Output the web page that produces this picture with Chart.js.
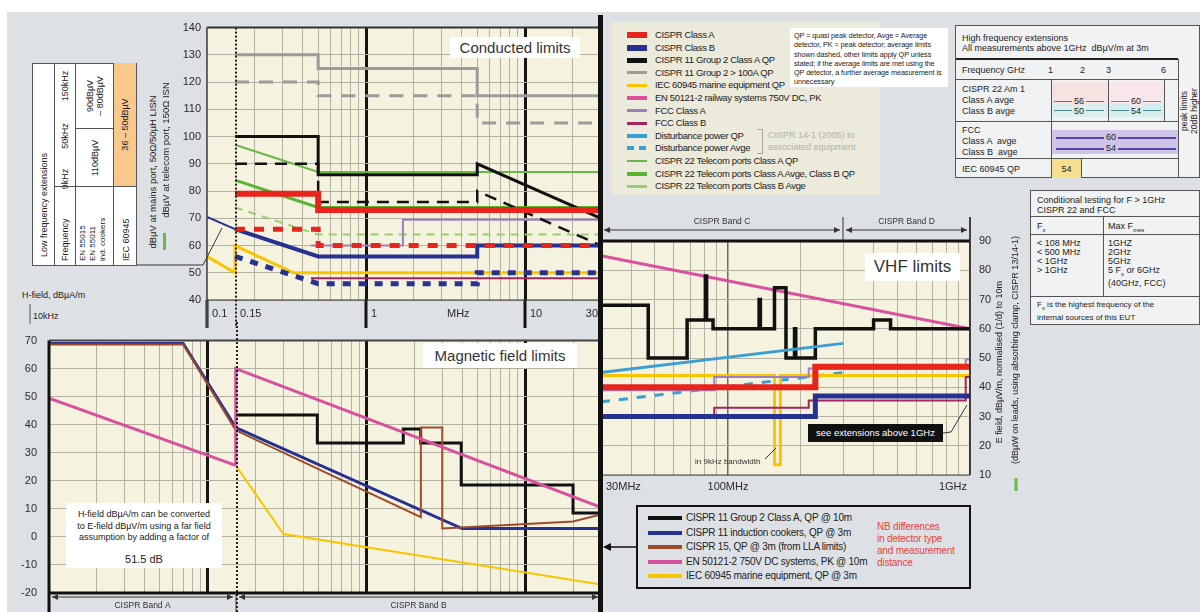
<!DOCTYPE html>
<html>
<head>
<meta charset="utf-8">
<title>EMC emission limits</title>
<script src="https://cdn.jsdelivr.net/npm/chart.js@4.4.1/dist/chart.umd.min.js"></script>
<style>
  body { margin: 0; background: #fff; font-family: "Liberation Sans", Arial, sans-serif; color: #222; }
  #page { position: relative; width: 1200px; height: 612px; overflow: hidden; }
  #bg { position: absolute; left: 7px; top: 12px; right: 0; bottom: 0; background: #dde1e5; }
  .abs { position: absolute; }
  canvas { position: absolute; }
  .box { position: absolute; background: #fff; text-align: center; }
  .rot { position: absolute; transform: translate(-50%, -50%) rotate(-90deg); white-space: nowrap; }
  .hl { position: absolute; height: 0; border-top: 1px solid #555; }
  .vl { position: absolute; width: 0; border-left: 1px solid #555; }
  .cell { position: absolute; display: flex; align-items: center; justify-content: center; text-align: center; }
  .leg { position: absolute; white-space: nowrap; }
  .sw { position: absolute; }
</style>
</head>
<body>
<div id="page">
  <div id="bg"></div>

  <canvas id="condChart" width="431" height="313" style="left:170px;top:15px"></canvas>
  <canvas id="magChart" width="601" height="290" style="left:0px;top:322px"></canvas>
  <canvas id="vhfChart" width="400" height="284" style="left:601px;top:212px"></canvas>

  <!-- low frequency extensions, printed sideways -->
  <div class="abs" style="left:32px;top:266px;width:203px;height:105px;transform:rotate(-90deg);transform-origin:0 0;background:#fff;border:1px solid #555;box-sizing:border-box;font-size:9px;line-height:10px">
    <div class="abs" style="left:8px;top:6px">Low frequency extensions</div>
    <div class="hl" style="left:0;right:0;top:21px"></div>
    <div class="abs" style="left:4px;top:27px">Frequency</div>
    <div class="abs" style="left:72px;top:27px;width:28px;text-align:center">9kHz</div>
    <div class="abs" style="left:112px;top:27px;width:34px;text-align:center">50kHz</div>
    <div class="abs" style="left:160px;top:27px;width:38px;text-align:center">150kHz</div>
    <div class="hl" style="left:0;right:0;top:42px"></div>
    <div class="abs" style="left:4px;top:45px;font-size:8px;line-height:10px">EN 55015<br>EN 55011<br>ind. cookers</div>
    <div class="vl" style="left:78px;top:21px;height:83px"></div>
    <div class="cell" style="left:78px;top:43px;width:58px;height:37px">110dBµV</div>
    <div class="vl" style="left:136px;top:42px;height:38px"></div>
    <div class="cell" style="left:137px;top:43px;width:64px;height:37px">90dBµV<br>– 80dBµV</div>
    <div class="hl" style="left:0;right:0;top:80px"></div>
    <div class="abs" style="left:4px;top:88px">IEC 60945</div>
    <div class="cell" style="left:79px;top:81px;width:123px;height:22px;background:#f8c88c">36 – 50dBµV</div>
  </div>

  <div class="rot" style="left:152px;top:172px;font-size:9.5px">dBµV at mains port, 50Ω/50µH LISN</div>
  <div class="rot" style="left:165px;top:150px;font-size:9.5px">dBµV at telecom port, 150Ω ISN</div>
  <div class="abs" style="left:163px;top:233px;width:3px;height:17px;background:#6ab845"></div>

  <div class="abs" style="left:22px;top:290px;font-size:9px">H-field, dBµA/m</div>
  <div class="abs" style="left:33px;top:311px;font-size:9px">10kHz</div>

  <!-- panel titles -->
  <div class="box" style="left:450px;top:37px;width:130px;height:21px;font-size:15px;line-height:21px;color:#333">Conducted limits</div>
  <div class="box" style="left:423px;top:343px;width:154px;height:25px;font-size:15px;line-height:25px;color:#333">Magnetic field limits</div>
  <div class="box" style="left:865px;top:253px;width:95px;height:28px;font-size:17px;line-height:28px;color:#333">VHF limits</div>

  <div class="box" style="left:66px;top:503px;width:156px;height:65px;font-size:9px;line-height:11.5px;padding-top:6px;box-sizing:border-box">
    H-field dBµA/m can be converted<br>to E-field dBµV/m using a far field<br>assumption by adding a factor of
    <div style="font-size:11px;margin-top:10px">51.5 dB</div>
  </div>

  <div class="box" style="left:808px;top:424px;width:135px;height:18px;background:#111;color:#fff;font-size:9.5px;line-height:18px">see extensions above 1GHz</div>
  <div class="abs" style="left:695px;top:457px;font-size:8px;color:#333">in 9kHz bandwidth</div>

  <div class="rot" style="left:999px;top:362px;font-size:9px">E field, dBµV/m, normalised (1/d) to 10m</div>
  <div class="rot" style="left:1015px;top:350px;font-size:9px">(dBµW on leads, using absorbing clamp, CISPR 13/14-1)</div>

  <!-- conducted legend -->
  <div id="condLegend" class="abs" style="left:612px;top:22px;width:268px;height:173px;background:#ebeadb;font-size:9.5px;letter-spacing:-0.35px"></div>
  <div class="abs" style="left:757px;top:129px;width:5px;height:23px;border:1px solid #aaa;border-left:none"></div>
  <div class="abs" style="left:768px;top:129px;font-size:9px;line-height:12px;color:#b2b0a6">CISPR 14-1 (2005) to<br>associated equipment</div>
  <div class="abs" style="left:790px;top:28px;width:158px;height:59px;background:#fff;font-size:7.3px;line-height:9.3px;padding:3px 4px;box-sizing:border-box;letter-spacing:-0.1px">
    QP = quasi peak detector, Avge = Average detector, PK = peak detector; average limits shown dashed, other limits apply QP unless stated; if the average limits are met using the QP detector, a further average measurement is unnecessary
  </div>

  <!-- high frequency extensions -->
  <div class="abs" style="left:955px;top:25px;width:245px;height:153px;background:#f1f2f3;border:1px solid #555;box-sizing:border-box;font-size:9px;line-height:10px">
    <div class="abs" style="left:6px;top:7px;white-space:nowrap">High frequency extensions<br>All measurements above 1GHz &nbsp;dBµV/m at 3m</div>
    <div class="abs" style="left:0;top:32px;width:222px;border-top:2px solid #222"></div>
    <div class="abs" style="left:6px;top:39px">Frequency GHz</div>
    <div class="abs" style="left:92px;top:39px">1</div>
    <div class="abs" style="left:124px;top:39px">2</div>
    <div class="abs" style="left:150px;top:39px">3</div>
    <div class="abs" style="left:205px;top:39px">6</div>
    <div class="vl" style="left:222px;top:33px;height:119px"></div>
    <div class="hl" style="left:0;width:222px;top:53px"></div>
    <div class="vl" style="left:95px;top:53px;height:99px"></div>
    <div class="abs" style="left:6px;top:58px;line-height:11px">CISPR 22 Am 1<br>Class A avge<br>Class B avge</div>
    <div class="abs" style="left:96px;top:56px;width:56px;height:21px;background:#f6e3e1"></div>
    <div class="abs" style="left:96px;top:77px;width:56px;height:14px;background:#dceff0"></div>
    <div class="abs" style="left:153px;top:56px;width:55px;height:21px;background:#f8e6ea"></div>
    <div class="abs" style="left:153px;top:77px;width:55px;height:14px;background:#d6eef0"></div>
    <div class="hl" style="left:98px;width:50px;top:75px;border-color:#777"></div>
    <div class="hl" style="left:98px;width:50px;top:84px;border-color:#4a8a90"></div>
    <div class="hl" style="left:155px;width:50px;top:75px;border-color:#d05a6a"></div>
    <div class="hl" style="left:155px;width:50px;top:84px;border-color:#4a8a90"></div>
    <div class="abs" style="left:116px;top:70px;background:#f6e3e1;padding:0 2px">56</div>
    <div class="abs" style="left:116px;top:80px;background:#dceff0;padding:0 2px">50</div>
    <div class="abs" style="left:173px;top:70px;background:#f8e6ea;padding:0 2px">60</div>
    <div class="abs" style="left:173px;top:80px;background:#d6eef0;padding:0 2px">54</div>
    <div class="vl" style="left:152px;top:53px;height:42px"></div>
    <div class="vl" style="left:208px;top:53px;height:42px"></div>
    <div class="hl" style="left:0;width:222px;top:95px"></div>
    <div class="abs" style="left:6px;top:99px;line-height:11px">FCC<br>Class A &nbsp;avge<br>Class B &nbsp;avge</div>
    <div class="abs" style="left:96px;top:104px;width:126px;height:24px;background:#cfc3e8"></div>
    <div class="hl" style="left:100px;width:120px;top:111px;border-top:2px solid #5a46a8"></div>
    <div class="hl" style="left:100px;width:120px;top:122px;border-top:2px solid #5a46a8"></div>
    <div class="abs" style="left:148px;top:106px;background:#cfc3e8;padding:0 2px">60</div>
    <div class="abs" style="left:148px;top:117px;background:#cfc3e8;padding:0 2px">54</div>
    <div class="hl" style="left:0;width:222px;top:132px"></div>
    <div class="abs" style="left:6px;top:138px">IEC 60945 QP</div>
    <div class="cell" style="left:96px;top:133px;width:29px;height:19px;background:#f6df8e;border-right:1px solid #555">54</div>
    <div class="rot" style="left:233px;top:85px;font-size:8.5px;line-height:10px;text-align:center">peak limits<br>20dB higher</div>
  </div>

  <!-- conditional testing -->
  <div class="abs" style="left:1030px;top:190px;width:170px;height:135px;background:#f1f2f3;border:1px solid #555;box-sizing:border-box;font-size:9px;line-height:10px">
    <div class="abs" style="left:6px;top:4px;white-space:nowrap">Conditional testing for F &gt; 1GHz<br>CISPR 22 and FCC</div>
    <div class="hl" style="left:0;right:0;top:25px"></div>
    <div class="abs" style="left:6px;top:30px">F<sub style="font-size:6px">x</sub></div>
    <div class="abs" style="left:77px;top:30px">Max F<sub style="font-size:6px">mes</sub></div>
    <div class="vl" style="left:72px;top:25px;height:80px"></div>
    <div class="hl" style="left:0;right:0;top:43px"></div>
    <div class="abs" style="left:6px;top:48px;line-height:9px;white-space:nowrap">&lt; 108 MHz<br>&lt; 500 MHz<br>&lt; 1GHz<br>&gt; 1GHz</div>
    <div class="abs" style="left:77px;top:48px;line-height:9px;white-space:nowrap">1GHZ<br>2GHz<br>5GHz<br>5 F<sub style="font-size:6px">x</sub> or 6GHz<br>(40GHz, FCC)</div>
    <div class="hl" style="left:0;right:0;top:105px"></div>
    <div class="abs" style="left:6px;top:109px;font-size:8px;line-height:10px;white-space:nowrap">F<sub style="font-size:6px">x</sub> is the highest frequency of the<br>internal sources of this EUT</div>
  </div>

  <!-- field legend -->
  <div id="fieldLegend" class="abs" style="left:636px;top:505px;width:335px;height:84px;border:2px solid #111;box-sizing:border-box;font-size:10px;letter-spacing:-0.25px"></div>
  <div class="abs" style="left:877px;top:521px;font-size:10px;line-height:12px;color:#e8413b;letter-spacing:-0.2px">NB differences<br>in detector type<br>and measurement<br>distance</div>

  <svg class="abs" width="1200" height="612" style="left:0;top:0;pointer-events:none">
    <rect x="598" y="15" width="5" height="597" fill="#111"/>
    <polyline points="137,265 203,265 222,228" fill="none" stroke="#333" stroke-width="1"/>
    <line x1="30" y1="304" x2="30" y2="324" stroke="#555" stroke-width="1"/>
    <line x1="636" y1="547" x2="609" y2="547" stroke="#111" stroke-width="1.5"/>
    <polygon points="603,547 611,543 611,551" fill="#111"/>
    <polyline points="943,433 951,432 967,405" fill="none" stroke="#333" stroke-width="1"/>
    <line x1="765" y1="459" x2="776" y2="448" stroke="#333" stroke-width="1"/>
    <line x1="1016" y1="478" x2="1016" y2="491" stroke="#6ab845" stroke-width="3"/>
  </svg>
</div>

<script>
// ---- conducted limits: [MHz, dBµV] ----
const cispr11HiQP = [[0.15, 130], [0.5, 130], [0.5, 125], [5, 125], [5, 115], [30, 115]];
const cispr11HiAv = [[0.15, 120], [0.5, 120], [0.5, 115], [5, 115], [5, 105], [30, 105]];
const cispr11AQP = [[0.15, 100], [0.5, 100], [0.5, 86], [5, 86], [5, 90], [30, 70]];
const cispr11AAv = [[0.15, 90], [0.5, 90], [0.5, 76], [5, 76], [5, 80], [30, 60]];
const classAQP = [[0.15, 79], [0.5, 79], [0.5, 73], [30, 73]];
const classAAv = [[0.15, 66], [0.5, 66], [0.5, 60], [30, 60]];
const classBQP = [[0.15, 66], [0.5, 56], [5, 56], [5, 60], [30, 60]];
const classBAv = [[0.15, 56], [0.5, 46], [5, 46], [5, 50], [30, 50]];
const lfExtension = [[0.1, 70.5], [0.15, 66]];
const iecCond = [[0.1, 56], [0.15, 50], [0.15, 60], [0.35, 50], [30, 50]];
const fccACond = [[0.45, 60], [1.705, 60], [1.705, 69.5], [30, 69.5]];
const fccBCond = [[0.45, 48], [30, 48]];
const telAQP = [[0.15, 97], [0.5, 87], [30, 87]];
const telAAvBQP = [[0.15, 84], [0.5, 74], [30, 74]];
const telBAv = [[0.15, 74], [0.5, 64], [30, 64]];

// ---- magnetic field limits: [MHz, dBµA/m] ----
const magCispr11 = [[0.15, 43.5], [0.49, 43.5], [0.49, 33.5], [1.705, 33.5], [1.705, 38.5], [2.194, 38.5], [2.194, 33.5], [3.95, 33.5], [3.95, 18.5], [20, 18.5], [20, 8.5], [30, 8.5]];
const magCookers = [[0.01, 69], [0.07, 69], [0.15, 39], [4, 3], [30, 3]];
const magCispr15 = [[0.01, 68.6], [0.07, 68.6], [0.15, 38], [2.2, 7], [2.2, 39], [3, 39], [3, 3], [20, 5.5], [30, 8]];
const magRail = [[0.01, 49.5], [0.15, 25.5], [0.15, 60], [30, 10.5]];
const magIec = [[0.15, 25.5], [0.3, 1], [30, -17]];

// ---- VHF limits: [MHz, dBµV/m at 10m] ----
const vhfRail = [[30, 85], [1000, 60]];
const vhfCispr11 = [[30, 68], [47, 68], [47, 50], [68, 50], [68, 63], [80.872, 63], [80.872, 78], [81.848, 78], [81.848, 63], [87, 63], [87, 60],
  [134.786, 60], [134.786, 70], [136.414, 70], [136.414, 60], [156, 60], [156, 74], [174, 74], [174, 50], [188.7, 50], [188.7, 60],
  [190.979, 60], [190.979, 50], [230, 50], [230, 60], [400, 60], [400, 63], [470, 63], [470, 60], [1000, 60]];
const vhfPowerQP = [[30, 45], [300, 55]];
const vhfPowerAv = [[30, 35], [300, 45]];
const vhfClassA = [[30, 40], [230, 40], [230, 47], [1000, 47]];
const vhfClassB = [[30, 30], [230, 30], [230, 37], [1000, 37]];
const vhfFccA = [[30, 39], [88, 39], [88, 43.5], [216, 43.5], [216, 46.4], [960, 46.4], [960, 49.5], [1000, 49.5]];
const vhfFccB = [[30, 29.5], [88, 29.5], [88, 33], [216, 33], [216, 35.5], [960, 35.5], [960, 43.5], [1000, 43.5]];
const vhfIec = [[30, 44], [156, 44], [156, 13.5], [165, 13.5], [165, 44], [1000, 44]];

// ---- axis labels and bands ----
const condXTicks = [0.1, 0.15, 1, 3, 10, 30];
const condXLabels = ['0.1', '0.15', '1', 'MHz', '10', '30'];
const vhfXTicks = [30, 100, 1000];
const vhfXLabels = ['30MHz', '100MHz', '1GHz'];
const magBands = [[0.01, 0.15, 'CISPR Band A'], [0.15, 30, 'CISPR Band B']];
const vhfBands = [[30, 300, 'CISPR Band C'], [300, 1000, 'CISPR Band D']];

const condLegendNames = ['CISPR Class A', 'CISPR Class B', 'CISPR 11 Group 2 Class A QP', 'CISPR 11 Group 2 > 100A QP',
  'IEC 60945 marine equipment QP', 'EN 50121-2 railway systems 750V DC, PK', 'FCC Class A', 'FCC Class B',
  'Disturbance power QP', 'Disturbance power Avge', 'CISPR 22 Telecom ports Class A QP',
  'CISPR 22 Telecom ports Class A Avge, Class B QP', 'CISPR 22 Telecom ports Class B Avge'];
const fieldLegendNames = ['CISPR 11 Group 2 Class A, QP @ 10m', 'CISPR 11 induction cookers, QP @ 3m',
  'CISPR 15, QP @ 3m (from LLA limits)', 'EN 50121-2 750V DC systems, PK @ 10m', 'IEC 60945 marine equipment, QP @ 3m'];

const RED = '#e8251d', BLUE = '#27318f', BLACK = '#111', GREY = '#9b9b9b', YELLOW = '#f7c600', PINK = '#d9519d',
  LAVENDER = '#a07cc0', PLUM = '#a3245e', SKY = '#3b9fd6', GREEN1 = '#6ab845', GREEN2 = '#58b530', GREEN3 = '#97cf6d',
  BROWN = '#9c4a2a', GRIDC = '#b3b1a2';

Chart.defaults.font.family = '"Liberation Sans", Arial, sans-serif';

function logGrid(min, max) {
  const vals = [];
  for (let e = Math.floor(Math.log10(min)); e <= Math.ceil(Math.log10(max)); e++) {
    for (let m = 1; m < 10; m++) {
      const v = m * Math.pow(10, e);
      if (v >= min * 0.999 && v <= max * 1.001) vals.push(v);
    }
  }
  return vals;
}

function isAt(v, list) {
  return (list || []).some(h => Math.abs(v / h - 1) < 1e-6);
}

function panelPlugin(cfg) {
  return {
    id: 'panel',
    beforeDraw(chart) {
      const { ctx, chartArea: a } = chart;
      ctx.save();
      ctx.fillStyle = '#f5f2df';
      ctx.fillRect(a.left, a.top, a.width, a.height);
      ctx.restore();
    },
    afterDraw(chart) {
      const { ctx, chartArea: a } = chart;
      const xs = chart.scales.x;
      const px = v => Math.round(xs.getPixelForValue(v));
      ctx.save();

      // heavy decade lines carry on through the label strip
      ctx.strokeStyle = '#151515';
      ctx.lineWidth = 3;
      (cfg.extend || []).forEach(v => {
        ctx.beginPath();
        ctx.moveTo(px(v), a.bottom);
        ctx.lineTo(px(v), chart.height);
        ctx.stroke();
      });

      // frame
      cfg.frame.forEach(([side, w, col]) => {
        ctx.strokeStyle = col;
        ctx.lineWidth = w;
        ctx.beginPath();
        if (side === 'top') { ctx.moveTo(a.left, a.top); ctx.lineTo(a.right, a.top); }
        if (side === 'bottom') { ctx.moveTo(a.left, a.bottom); ctx.lineTo(a.right, a.bottom); }
        if (side === 'left') { ctx.moveTo(a.left, a.top); ctx.lineTo(a.left, chart.height); }
        if (side === 'right') { ctx.moveTo(a.right, a.top - (cfg.bands ? 24 : 0)); ctx.lineTo(a.right, a.bottom); }
        ctx.stroke();
      });

      // 150 kHz dotted marker
      if (cfg.dotAt) {
        const x = px(cfg.dotAt) + 1;
        ctx.strokeStyle = '#222';
        ctx.lineWidth = 2;
        ctx.setLineDash([2, 2]);
        ctx.beginPath();
        ctx.moveTo(x, cfg.dotFromTop ? 0 : a.top);
        ctx.lineTo(x, chart.height);
        ctx.stroke();
        ctx.setLineDash([]);
      }

      // x labels
      if (cfg.xTicks) {
        ctx.fillStyle = '#2a2a2a';
        ctx.font = '11px "Liberation Sans", Arial, sans-serif';
        ctx.textBaseline = 'middle';
        const y = a.bottom + cfg.labelOffset;
        cfg.xTicks.forEach((v, i) => {
          const x = px(v);
          const t = cfg.xLabels[i];
          if (Math.abs(x - a.right) < 2) { ctx.textAlign = 'right'; ctx.fillText(t, x - 3, y); }
          else if (cfg.labelMode === 'after' || Math.abs(x - a.left) < 2) { ctx.textAlign = 'left'; ctx.fillText(t, x + 5, y); }
          else { ctx.textAlign = 'center'; ctx.fillText(t, x, y); }
        });
      }

      // CISPR band arrows
      if (cfg.bands) {
        const top = cfg.bandPos === 'top';
        const ly = top ? a.top - 11 : a.bottom + 4;
        const ty = top ? a.top - 19 : a.bottom + 13;
        ctx.strokeStyle = '#333';
        ctx.fillStyle = '#333';
        ctx.lineWidth = 1;
        ctx.font = '8.5px "Liberation Sans", Arial, sans-serif';
        ctx.textAlign = 'center';
        ctx.textBaseline = 'middle';
        cfg.bands.forEach(([f0, f1, label]) => {
          const x0 = px(f0) + 3, x1 = px(f1) - 3;
          ctx.beginPath();
          ctx.moveTo(x0, ly); ctx.lineTo(x1, ly);
          ctx.moveTo(px(f1), top ? a.top - 24 : a.bottom);
          ctx.lineTo(px(f1), top ? a.top : chart.height);
          ctx.stroke();
          ctx.beginPath();
          ctx.moveTo(x0, ly); ctx.lineTo(x0 + 6, ly - 3); ctx.lineTo(x0 + 6, ly + 3); ctx.closePath();
          ctx.moveTo(x1, ly); ctx.lineTo(x1 - 6, ly - 3); ctx.lineTo(x1 - 6, ly + 3); ctx.closePath();
          ctx.fill();
          ctx.fillText(label, (x0 + x1) / 2, ty);
        });
      }
      ctx.restore();
    }
  };
}

function makeChart(id, cfg) {
  const grid = logGrid(cfg.xMin, cfg.xMax);
  return new Chart(document.getElementById(id), {
    type: 'line',
    data: {
      datasets: cfg.lines.map(l => ({
        data: l[0].map(p => ({ x: p[0], y: p[1] })),
        borderColor: l[1],
        borderWidth: l[2],
        borderDash: l[3] || [],
        pointRadius: 0,
        tension: 0,
        fill: false
      }))
    },
    options: {
      responsive: false,
      animation: false,
      events: [],
      layout: { padding: { top: cfg.padTop, left: 0, right: 0, bottom: 0 } },
      plugins: { legend: { display: false }, tooltip: { enabled: false } },
      scales: {
        x: {
          type: 'logarithmic',
          min: cfg.xMin,
          max: cfg.xMax,
          afterBuildTicks: s => { s.ticks = grid.map(v => ({ value: v })); },
          afterFit: s => { s.height = cfg.xHeight; },
          ticks: { display: false },
          border: { display: false },
          grid: {
            drawTicks: false,
            color: c => c.tick && isAt(c.tick.value, cfg.heavy) ? '#151515' : (c.tick && isAt(c.tick.value, cfg.dark) ? '#6d6c66' : GRIDC),
            lineWidth: c => c.tick && isAt(c.tick.value, cfg.heavy) ? 3 : (c.tick && isAt(c.tick.value, cfg.dark) ? 1.5 : 1)
          }
        },
        y: {
          position: cfg.yPos,
          min: cfg.yMin,
          max: cfg.yMax,
          afterFit: s => { s.width = cfg.yWidth; },
          ticks: { stepSize: 10, padding: cfg.yPad, color: '#2a2a2a', font: { size: 11 } },
          border: { display: false },
          grid: { drawTicks: false, color: GRIDC }
        }
      }
    },
    plugins: [panelPlugin(cfg)]
  });
}

// conducted panel (dataset 0 is drawn on top)
makeChart('condChart', {
  xMin: 0.1, xMax: 30, yMin: 40, yMax: 140, yPos: 'left', yWidth: 37, yPad: 6, xHeight: 28, padTop: 10,
  heavy: [1, 10], dark: [0.1], extend: [0.1, 1, 10], dotAt: 0.15, dotFromTop: false,
  xTicks: condXTicks, xLabels: condXLabels, labelMode: 'after', labelOffset: 14,
  frame: [['top', 2, '#333'], ['left', 1.5, '#555'], ['bottom', 1, '#333']],
  lines: [
    [classAAv, RED, 5, [10, 9]],
    [classAQP, RED, 6],
    [classBAv, BLUE, 5, [8, 8]],
    [classBQP, BLUE, 4],
    [lfExtension, BLUE, 2],
    [cispr11AQP, BLACK, 3],
    [cispr11AAv, BLACK, 2.5, [12, 8]],
    [fccACond, LAVENDER, 2],
    [fccBCond, PLUM, 2],
    [iecCond, YELLOW, 3],
    [telAQP, GREEN1, 2],
    [telAAvBQP, GREEN2, 3],
    [telBAv, GREEN3, 2, [8, 6]],
    [cispr11HiQP, GREY, 3],
    [cispr11HiAv, GREY, 3, [14, 10]]
  ]
});

// magnetic field panel
makeChart('magChart', {
  xMin: 0.01, xMax: 30, yMin: -20, yMax: 70, yPos: 'left', yWidth: 49, yPad: 12, xHeight: 19, padTop: 7,
  heavy: [0.1, 1, 10], dotAt: 0.15, dotFromTop: true,
  bands: magBands, bandPos: 'bottom',
  frame: [['top', 2, '#444'], ['left', 3, '#111'], ['bottom', 3, '#111']],
  lines: [
    [magIec, YELLOW, 2],
    [magRail, PINK, 3],
    [magCispr15, BROWN, 2],
    [magCookers, BLUE, 3],
    [magCispr11, BLACK, 3]
  ]
});

// VHF panel
makeChart('vhfChart', {
  xMin: 30, xMax: 1000, yMin: 10, yMax: 90, yPos: 'right', yWidth: 31, yPad: 9, xHeight: 21, padTop: 29,
  dark: [100, 1000],
  xTicks: vhfXTicks, xLabels: vhfXLabels, labelMode: 'center', labelOffset: 12,
  bands: vhfBands, bandPos: 'top',
  frame: [['top', 3, '#111'], ['right', 1.5, '#222'], ['bottom', 1, '#444']],
  lines: [
    [vhfClassA, RED, 6],
    [vhfClassB, BLUE, 5],
    [vhfFccA, LAVENDER, 2],
    [vhfFccB, PLUM, 2],
    [vhfIec, YELLOW, 3],
    [vhfPowerAv, SKY, 3, [9, 9]],
    [vhfPowerQP, SKY, 3],
    [vhfCispr11, BLACK, 3.5],
    [vhfRail, PINK, 3]
  ]
});

// legends
const condSwatches = [[RED, 6], [BLUE, 6], [BLACK, 5], [GREY, 3], [YELLOW, 3], [PINK, 4], [LAVENDER, 3], [PLUM, 3],
  [SKY, 4], [SKY, 4, true], [GREEN1, 2], [GREEN2, 4], [GREEN3, 3]];
const condLegend = document.getElementById('condLegend');
condLegendNames.forEach((name, i) => {
  const y = 13 + i * 12.6;
  const [col, h, dashed] = condSwatches[i];
  const sw = document.createElement('div');
  sw.className = 'sw';
  sw.style.cssText = `left:15px;top:${y - h / 2}px;width:20px;height:${h}px;background:${dashed ? `repeating-linear-gradient(90deg, ${col} 0 7px, transparent 7px 12px)` : col}`;
  condLegend.appendChild(sw);
  const t = document.createElement('div');
  t.className = 'leg';
  t.style.cssText = `left:43px;top:${y - 7}px;line-height:14px`;
  t.textContent = name;
  condLegend.appendChild(t);
});

const fieldColours = [BLACK, BLUE, BROWN, PINK, YELLOW];
const fieldLegend = document.getElementById('fieldLegend');
fieldLegendNames.forEach((name, i) => {
  const y = 11 + i * 14.5;
  const sw = document.createElement('div');
  sw.className = 'sw';
  sw.style.cssText = `left:10px;top:${y - 2}px;width:34px;height:4px;background:${fieldColours[i]}`;
  fieldLegend.appendChild(sw);
  const t = document.createElement('div');
  t.className = 'leg';
  t.style.cssText = `left:48px;top:${y - 7}px;line-height:14px`;
  t.textContent = name;
  fieldLegend.appendChild(t);
});
</script>
</body>
</html>
